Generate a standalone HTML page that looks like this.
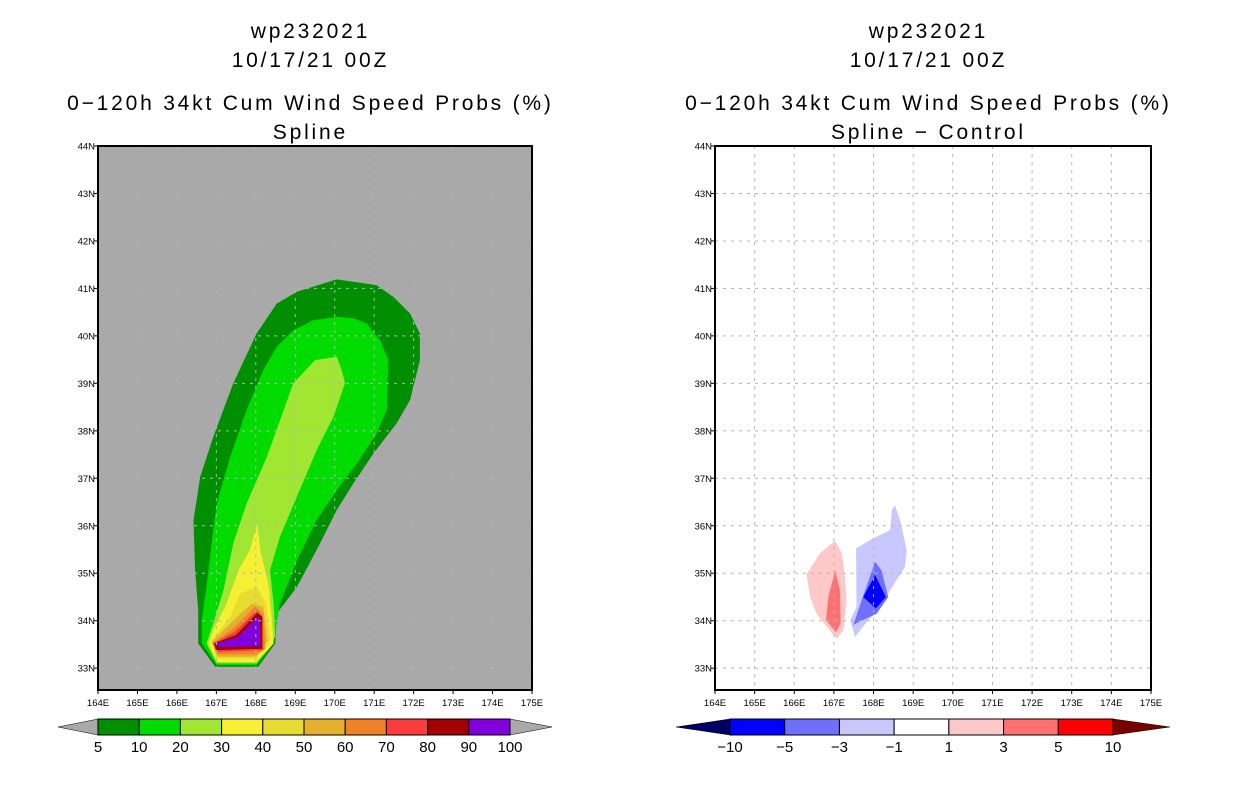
<!DOCTYPE html>
<html><head><meta charset="utf-8">
<style>
body{margin:0;background:#fff;}
svg text{font-family:"Liberation Sans",sans-serif;}
</style></head>
<body>
<svg id="root" width="1236" height="800" xmlns="http://www.w3.org/2000/svg"></svg>
<script>
// ---- data ----
const latTicks=[44,43,42,41,40,39,38,37,36,35,34,33];
const lonTicks=[164,165,166,167,168,169,170,171,172,173,174,175];
const leftLevels=["5","10","20","30","40","50","60","70","80","90","100"];
const leftColors=["#008f00","#00dc00","#a0e632","#f6f032","#e6dc32","#e6af2d","#f08228","#fa3c3c","#a00000","#8200dc"];
const rightLevels=["-10","-5","-3","-1","1","3","5","10"];
const rightColors=["#0000ff","#7070ff","#c8c8ff","#ffffff","#ffc8c8","#ff7070","#ff0000"];
// contour polygons, [lon,lat]
const pOuter=[[166.54,33.52],[166.97,33.03],[168.06,33.03],[168.49,33.52],[168.53,34.15],[169.04,34.71],[169.54,35.49],[170.05,36.33],[170.47,36.89],[170.98,37.52],[171.57,38.16],[171.91,38.65],[172.16,39.49],[172.16,40.05],[171.91,40.47],[171.49,40.82],[171.06,41.07],[170.05,41.19],[169.04,40.93],[168.53,40.68],[168.02,40.05],[167.43,39.0],[166.92,37.87],[166.59,37.03],[166.42,36.12],[166.46,35.06],[166.54,34.22]];
const p10=[[166.63,33.52],[167.01,33.06],[168.02,33.06],[168.45,33.52],[168.61,34.36],[169.04,35.27],[169.54,36.12],[170.05,36.75],[170.56,37.31],[171.06,37.94],[171.32,38.44],[171.36,39.49],[171.15,39.91],[170.81,40.26],[170.47,40.37],[170.05,40.40],[169.46,40.33],[168.95,40.12],[168.53,39.77],[168.19,39.28],[167.77,38.44],[167.35,37.45],[167.01,36.47],[166.88,35.63],[166.75,34.71],[166.63,34.01]];
const p20=[[166.75,33.52],[167.01,33.10],[168.02,33.10],[168.49,33.66],[168.45,34.36],[168.36,35.06],[168.61,35.77],[169.04,36.61],[169.54,37.59],[169.97,38.30],[170.26,39.0],[170.18,39.28],[170.05,39.56],[169.50,39.49],[168.95,39.0],[168.28,37.45],[167.77,36.47],[167.43,35.63],[167.18,34.64],[166.92,33.94]];
const p30=[[166.80,33.52],[166.92,33.80],[167.26,34.36],[167.56,35.06],[167.85,35.49],[168.04,36.05],[168.11,35.49],[168.32,34.78],[168.40,34.08],[168.45,33.52],[168.02,33.13],[167.01,33.13]];
const p40=[[166.88,33.59],[167.35,34.08],[167.60,34.57],[168.02,34.71],[168.26,34.36],[168.36,33.59],[168.02,33.20],[167.01,33.20]];
const p50=[[166.88,33.55],[167.35,33.94],[167.90,34.36],[168.19,34.29],[168.29,33.59],[168.01,33.24],[167.03,33.24]];
const p60=[[166.91,33.53],[167.43,33.84],[167.98,34.29],[168.19,34.15],[168.24,33.41],[168.01,33.29],[167.03,33.29]];
const p70=[[166.92,33.52],[167.47,33.77],[168.02,34.22],[168.17,34.08],[168.19,33.38],[167.05,33.34]];
const p80=[[166.94,33.52],[167.50,33.70],[168.04,34.17],[168.16,34.08],[168.16,33.41],[166.99,33.38]];
const p90=[[166.99,33.52],[167.53,33.65],[168.06,34.08],[168.11,34.05],[168.11,33.46],[167.03,33.44]];
const dPink=[[166.31,34.99],[166.65,35.42],[167.03,35.68],[167.20,35.42],[167.28,34.92],[167.32,34.43],[167.24,33.80],[167.07,33.62],[166.82,33.87],[166.56,34.15],[166.40,34.50]];
const dRed=[[167.03,35.06],[167.15,34.64],[167.17,33.94],[167.05,33.76],[166.80,34.01],[166.86,34.50]];
const dLBlue=[[167.41,34.01],[167.57,34.29],[167.56,35.52],[167.91,35.70],[168.42,35.91],[168.46,36.33],[168.54,36.43],[168.67,36.12],[168.84,35.49],[168.79,35.13],[168.63,34.92],[168.16,34.29],[167.87,34.01],[167.53,33.66]];
const dMBlue=[[167.49,33.91],[167.70,34.43],[168.04,35.24],[168.20,35.06],[168.37,34.50],[168.08,34.15],[167.62,33.97]];
const dDBlue=[[167.74,34.50],[168.04,34.96],[168.31,34.50],[168.06,34.26]];

const NS="http://www.w3.org/2000/svg";
const root=document.getElementById('root');
function mk(tag,attrs,parent){const e=document.createElementNS(NS,tag);for(const k in attrs)e.setAttribute(k,attrs[k]);(parent||root).appendChild(e);return e;}
function panel(x0,x1,y0,y1){
  return {x:lon=>x0+(lon-164)*(x1-x0)/11, y:lat=>y0+(44-lat)*(y1-y0)/(44-32.54), x0,x1,y0,y1};
}
const L=panel(98,532,146,690), R=panel(715,1151,146,690);

function titles(cx,lines){
  const ys=[38,67,110,139];
  lines.forEach((t,i)=>{const e=mk('text',{x:cx+1.4,y:ys[i],'text-anchor':'middle','font-size':'21','letter-spacing':'2.8'});e.textContent=t;
  
  });
}
titles(309,["wp232021","10/17/21 00Z","0\u2212120h 34kt Cum Wind Speed Probs (%)","Spline"]);
titles(927,["wp232021","10/17/21 00Z","0\u2212120h 34kt Cum Wind Speed Probs (%)","Spline \u2212 Control"]);

function poly(P,pts,fill){
  const e=mk('polygon',{points:pts.map(p=>P.x(p[0]).toFixed(1)+','+P.y(p[1]).toFixed(1)).join(' '),fill:fill});
  
  
}
function axes(P,bg,name){
  const r=mk('rect',{x:P.x0,y:P.y0,width:P.x1-P.x0,height:P.y1-P.y0,fill:bg});
  
  
  return r;
}
function grid(P){
  latTicks.forEach(t=>{if(t===44)return;const y=P.y(t);const l=mk('line',{x1:P.x0,x2:P.x1,y1:y,y2:y,stroke:'#b4b4b4','stroke-dasharray':'3,5','stroke-width':1});
    });
  lonTicks.forEach(t=>{if(t===164||t===175)return;const x=P.x(t);const l=mk('line',{x1:x,x2:x,y1:P.y0,y2:P.y1,stroke:'#b4b4b4','stroke-dasharray':'3,5','stroke-width':1});
    });
}
function frame(P,name){
  const f=mk('rect',{x:P.x0,y:P.y0,width:P.x1-P.x0,height:P.y1-P.y0,fill:'none',stroke:'#000','stroke-width':2});
  
  latTicks.forEach(t=>{const y=P.y(t);
    mk('line',{x1:P.x0-4,x2:P.x0,y1:y,y2:y,stroke:'#000'});
    const e=mk('text',{x:P.x0-3,y:y+3.5,'text-anchor':'end','font-size':'9.5'});e.textContent=t+'N';
    });
  lonTicks.forEach(t=>{const x=P.x(t);
    mk('line',{x1:x,x2:x,y1:P.y1,y2:P.y1+4,stroke:'#000'});
    const e=mk('text',{x:x,y:P.y1+16,'text-anchor':'middle','font-size':'9.5'});e.textContent=t+'E';
    });
}
// left panel
axes(L,'#a9a9a9','left');
[[pOuter,leftColors[0]],[p10,leftColors[1]],[p20,leftColors[2]],[p30,leftColors[3]],[p40,leftColors[4]],[p50,leftColors[5]],[p60,leftColors[6]],[p70,leftColors[7]],[p80,leftColors[8]],[p90,leftColors[9]]].forEach(a=>poly(L,a[0],a[1]));
grid(L);frame(L,'left');
// right panel
axes(R,'#ffffff','right');
[[dPink,rightColors[4]],[dRed,rightColors[5]],[dLBlue,rightColors[2]],[dMBlue,rightColors[1]],[dDBlue,rightColors[0]]].forEach(a=>poly(R,a[0],a[1]));
grid(R);frame(R,'right');

// colorbars
function colorbar(x0,x1,tipL,tipR,cols,levels,lc,rc,name){
  const y0=719,y1=735,ym=727;const w=(x1-x0)/cols.length;
  const tl=mk('polygon',{points:`${tipL},${ym} ${x0},${y0} ${x0},${y1}`,fill:lc,stroke:'#000','stroke-width':0.5});
  
  const tr=mk('polygon',{points:`${tipR},${ym} ${x1},${y0} ${x1},${y1}`,fill:rc,stroke:'#000','stroke-width':0.5});
  
  cols.forEach((c,i)=>{const r=mk('rect',{x:x0+i*w,y:y0,width:w,height:y1-y0,fill:c,stroke:'#000','stroke-width':1});
    });
  levels.forEach((t,i)=>{const e=mk('text',{x:x0+i*w,y:752,'text-anchor':'middle','font-size':'15'});e.textContent=t.replace('-','\u2212');
    });
}
colorbar(98,510,58,552,leftColors,leftLevels,'#a9a9a9','#a9a9a9','left-colorbar');
colorbar(730,1113,676,1170,rightColors,rightLevels,'#000064','#780000','right-colorbar');
</script>
</body></html>
